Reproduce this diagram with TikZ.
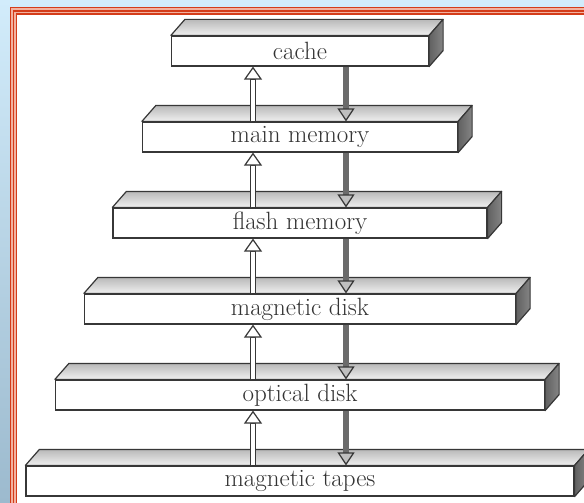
\documentclass[tikz,border=0pt]{standalone}
\usetikzlibrary{arrows.meta}
\definecolor{framered}{RGB}{212,60,26}
\definecolor{framepink}{RGB}{242,178,160}
\definecolor{edgegray}{RGB}{55,55,55}
\definecolor{skytop}{RGB}{210,236,251}
\definecolor{skybottom}{RGB}{156,186,206}
\begin{document}
\begin{tikzpicture}[x=1pt, y=-1pt]
\tikzset{slab/.style={draw=edgegray, line width=1.2pt, fill=white, minimum height=30pt, inner sep=0pt, text=black!80, font=\fontsize{25}{28}\selectfont}}
\tikzset{topface/.style={top color=gray!55, bottom color=gray!12, draw=edgegray, line width=1.2pt, line join=round}}
\tikzset{sideface/.style={left color=black!62, right color=black!48, draw=edgegray, line width=1.2pt, line join=round}}
\tikzset{upflow/.style={draw=edgegray, line width=6pt, -{Triangle[length=13pt, width=18pt, fill=white, line width=1.2pt]}, postaction={draw=white, line width=3.6pt, shorten >=13.6pt, -}}}
\tikzset{downflow/.style={draw=black!58, line width=6.5pt, -{Triangle[length=13pt, width=17pt, color=edgegray, fill=gray!50, line width=1.2pt]}}}
\useasboundingbox (0,0) rectangle (584,503);
\shade[top color=skytop, bottom color=skybottom] (0,0) rectangle (584,503);
\fill[framepink] (9.5,6.8) rectangle (584,503);
\fill[white] (17.4,14.7) rectangle (584,503);
\draw[framered, line width=1.4pt] (10.2,503) -- (10.2,7.5) -- (584,7.5);
\draw[framered, line width=1.4pt] (13.7,503) -- (13.7,10.9) -- (584,10.9);
\draw[framered, line width=1.2pt] (16.8,503) -- (16.8,14.1) -- (584,14.1);
\node[slab, minimum width=257pt] (cache) at (300,51) {cache};
\node[slab, minimum width=315pt] (mainmem) at (300,137) {main memory};
\node[slab, minimum width=374pt] (flash) at (300,223) {flash memory};
\node[slab, minimum width=431pt] (mdisk) at (300,309) {magnetic disk};
\node[slab, minimum width=489pt] (odisk) at (300,395) {optical disk};
\node[slab, minimum width=548pt] (tapes) at (300,481) {magnetic tapes};
\foreach \b in {cache,mainmem,flash,mdisk,odisk,tapes}{
\shade[topface] (\b.north west) -- ++(14,-16) -- ([shift={(14,-16)}]\b.north east) -- (\b.north east) -- cycle;
\shade[sideface] (\b.north east) -- ++(14,-16) -- ([shift={(14,-16)}]\b.south east) -- (\b.south east) -- cycle;
}
\foreach \lo/\hi in {mainmem/cache, flash/mainmem, mdisk/flash, odisk/mdisk, tapes/odisk}{
\draw[upflow] ([xshift=-47pt]\lo.north) -- ([xshift=-47pt]\hi.south);
\draw[downflow] ([xshift=46pt]\hi.south) -- ([xshift=46pt]\lo.north);
}
\end{tikzpicture}
\end{document}
